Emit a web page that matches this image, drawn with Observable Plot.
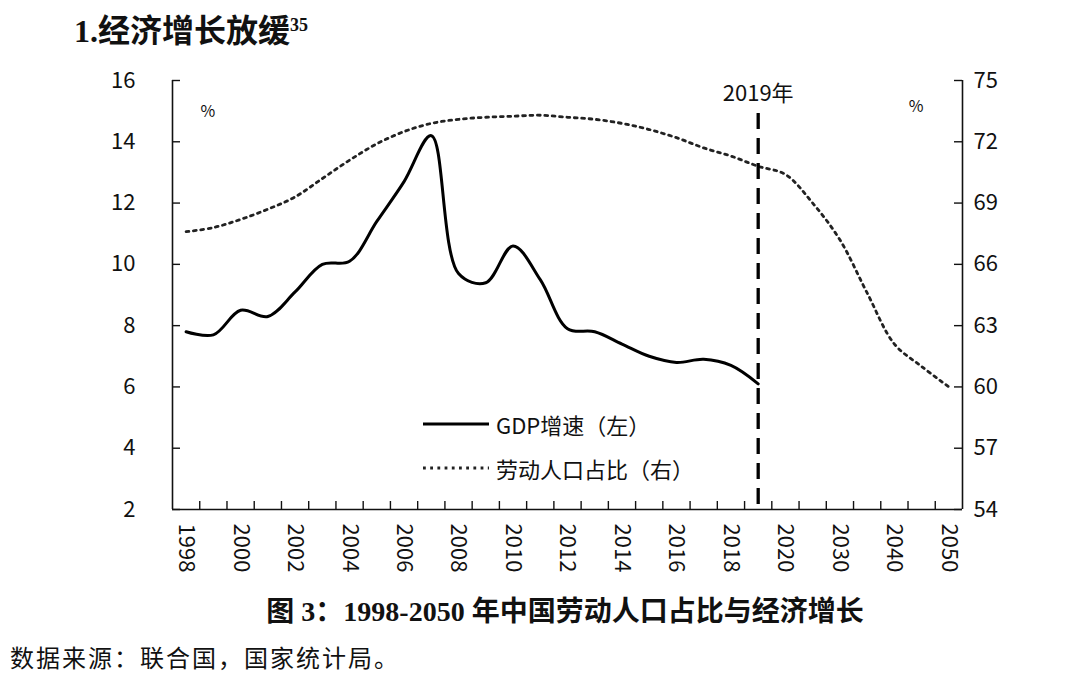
<!DOCTYPE html>
<html>
<head>
<meta charset="utf-8">
<script src="https://cdn.jsdelivr.net/npm/d3@7"></script>
<script src="https://cdn.jsdelivr.net/npm/@observablehq/plot@0.6"></script>
<style>
  html, body { margin: 0; padding: 0; background: #fff; }
  #page { position: relative; width: 1068px; height: 678px; overflow: hidden; background: #fff; color: #111; }
  #title { position: absolute; left: 74px; top: 11px; font-family: "Liberation Serif", "Noto Sans CJK SC", serif; font-weight: bold; font-size: 32px; line-height: 40px; white-space: nowrap; }
  #title sup { font-size: 18px; vertical-align: top; position: relative; top: -6px; }
  #chart { position: absolute; left: 0; top: 60px; }
  #legend { position: absolute; left: 0; top: 0; font-family: "Noto Sans CJK SC", sans-serif; font-size: 22px; color: #111; }
  #caption { position: absolute; left: 0; width: 1130px; top: 595px; text-align: center; font-family: "Liberation Serif", "Noto Sans CJK SC", serif; font-weight: bold; font-size: 28px; line-height: 34px; white-space: nowrap; }
  #source { position: absolute; left: 10px; top: 641px; font-family: "Noto Sans CJK SC", sans-serif; font-size: 24px; line-height: 32px; white-space: nowrap; letter-spacing: 2px; color: #111; }
</style>
</head>
<body>
<div id="page">
  <div id="title">1.经济增长放缓<sup>35</sup></div>
  <div id="chart"></div>
  <div id="caption">图 3：1998-2050 年中国劳动人口占比与经济增长</div>
  <div id="source">数据来源：联合国，国家统计局。</div>
</div>
<script>
// ---- data ----
const categories = ["1998","1999","2000","2001","2002","2003","2004","2005","2006","2007","2008",
  "2009","2010","2011","2012","2013","2014","2015","2016","2017","2018","2019",
  "2020","2025","2030","2035","2040","2045","2050"];
const gdpYears = ["1998","1999","2000","2001","2002","2003","2004","2005","2006","2007","2008",
  "2009","2010","2011","2012","2013","2014","2015","2016","2017","2018","2019"];
const gdpGrowth = [7.8, 7.7, 8.5, 8.3, 9.1, 10.0, 10.1, 11.4, 12.7, 14.2, 9.7,
  9.4, 10.6, 9.5, 7.9, 7.8, 7.4, 7.0, 6.8, 6.9, 6.7, 6.1];
const laborYears = categories;
const laborShare = [67.6, 67.8, 68.2, 68.7, 69.3, 70.2, 71.1, 71.9, 72.5, 72.9, 73.1,
  73.2, 73.25, 73.3, 73.2, 73.1, 72.9, 72.6, 72.2, 71.7, 71.3, 70.8,
  70.4, 69.0, 67.2, 64.6, 62.1, 61.0, 60.0];
const leftTicks = [2, 4, 6, 8, 10, 12, 14, 16];
const rightTicks = [54, 57, 60, 63, 66, 69, 72, 75];
const xLabels = ["1998","2000","2002","2004","2006","2008","2010","2012","2014","2016","2018","2020","2030","2040","2050"];
const markerYear = "2019";
const markerLabel = "2019年";
const seriesNames = ["GDP增速（左）", "劳动人口占比（右）"];

// ---- helpers ----
const leftDomain = [2, 16];
const rightDomain = [54, 75];
const toLeft = v => leftDomain[0] + (v - rightDomain[0]) * (leftDomain[1] - leftDomain[0]) / (rightDomain[1] - rightDomain[0]);
const fromLeft = v => Math.round(rightDomain[0] + (v - leftDomain[0]) * (rightDomain[1] - rightDomain[0]) / (leftDomain[1] - leftDomain[0]));
const idx = c => categories.indexOf(c);

const gdpData = gdpYears.map((c, k) => ({i: idx(c), v: gdpGrowth[k]}));
const laborData = laborYears.map((c, k) => ({i: idx(c), v: toLeft(laborShare[k])}));
const bandEdges = d3.range(0.5, categories.length - 1, 1);
const labelIdx = xLabels.map(idx);

const W = 1068, H = 530;
const mTop = 20, mBottom = 81, mLeft = 172, mRight = 106;
const innerW = W - mLeft - mRight, innerH = H - mTop - mBottom;
const font = '"Noto Sans CJK SC", sans-serif';
const ink = "#111";

const chart = Plot.plot({
  width: W, height: H,
  marginTop: mTop, marginBottom: mBottom, marginLeft: mLeft, marginRight: mRight,
  style: {fontFamily: font, color: ink, background: "#fff", overflow: "visible"},
  x: {type: "linear", domain: [-0.5, categories.length - 0.5], axis: null},
  y: {type: "linear", domain: leftDomain, axis: null},
  marks: [
    // axis lines
    Plot.ruleX([-0.5, categories.length - 0.5], {stroke: ink, strokeWidth: 1.6}),
    Plot.ruleY([leftDomain[0]], {stroke: ink, strokeWidth: 1.6}),
    // inward x ticks at category boundaries
    Plot.ruleX(bandEdges, {stroke: ink, strokeWidth: 1.4, insetTop: innerH - 8}),
    // inward left / right y ticks
    Plot.ruleY(leftTicks, {stroke: ink, strokeWidth: 1.4, insetRight: innerW - 8}),
    Plot.ruleY(rightTicks.map(toLeft), {stroke: ink, strokeWidth: 1.4, insetLeft: innerW - 8}),
    // tick labels
    Plot.axisY(leftTicks, {anchor: "left", tickSize: 0, tickPadding: 37, fontSize: 22, label: null, fill: ink}),
    Plot.axisY(rightTicks.map(toLeft), {anchor: "right", tickSize: 0, tickPadding: 11, fontSize: 22, label: null, fill: ink, tickFormat: fromLeft}),
    Plot.axisX(labelIdx, {anchor: "bottom", tickSize: 0, tickRotate: 90, tickPadding: 14, fontSize: 22, label: null, fill: ink, tickFormat: i => categories[i]}),
    // series
    Plot.line(laborData, {x: "i", y: "v", curve: "catmull-rom", stroke: "#222", strokeWidth: 2.8, strokeDasharray: "2.8 4.6"}),
    Plot.line(gdpData, {x: "i", y: "v", curve: "catmull-rom", stroke: "#000", strokeWidth: 3}),
    // 2019 marker
    Plot.ruleX([markerYear], {x: idx, y1: 14.92, y2: leftDomain[0], stroke: "#000", strokeWidth: 3.3, strokeDasharray: "16 9"}),
    Plot.text([markerLabel], {x: () => idx(markerYear), frameAnchor: "top", dy: 5, fontSize: 22, fill: ink}),
    // unit labels
    Plot.text(["%"], {frameAnchor: "top-left", dx: 28, dy: 25, fontSize: 16, fill: ink}),
    Plot.text(["%"], {frameAnchor: "top-right", dx: -39, dy: 20, fontSize: 16, fill: ink})
  ]
});
document.getElementById("chart").appendChild(chart);

// legend overlay (inside the plot area, as in the reference)
const legend = document.createElement("div");
legend.id = "legend";
legend.innerHTML = `
<svg width="1068" height="678" style="position:absolute;left:0;top:0;overflow:visible">
  <line x1="423" x2="489" y1="424" y2="424" stroke="#000" stroke-width="3"/>
  <text x="496" y="424" dominant-baseline="central" font-size="22" fill="${ink}" font-family='${font}'>${seriesNames[0]}</text>
  <line x1="423" x2="489" y1="468" y2="468" stroke="#222" stroke-width="2.8" stroke-dasharray="2.8 4.4"/>
  <text x="496" y="468" dominant-baseline="central" font-size="22" fill="${ink}" font-family='${font}'>${seriesNames[1]}</text>
</svg>`;
document.getElementById("page").appendChild(legend);
</script>
</body>
</html>
